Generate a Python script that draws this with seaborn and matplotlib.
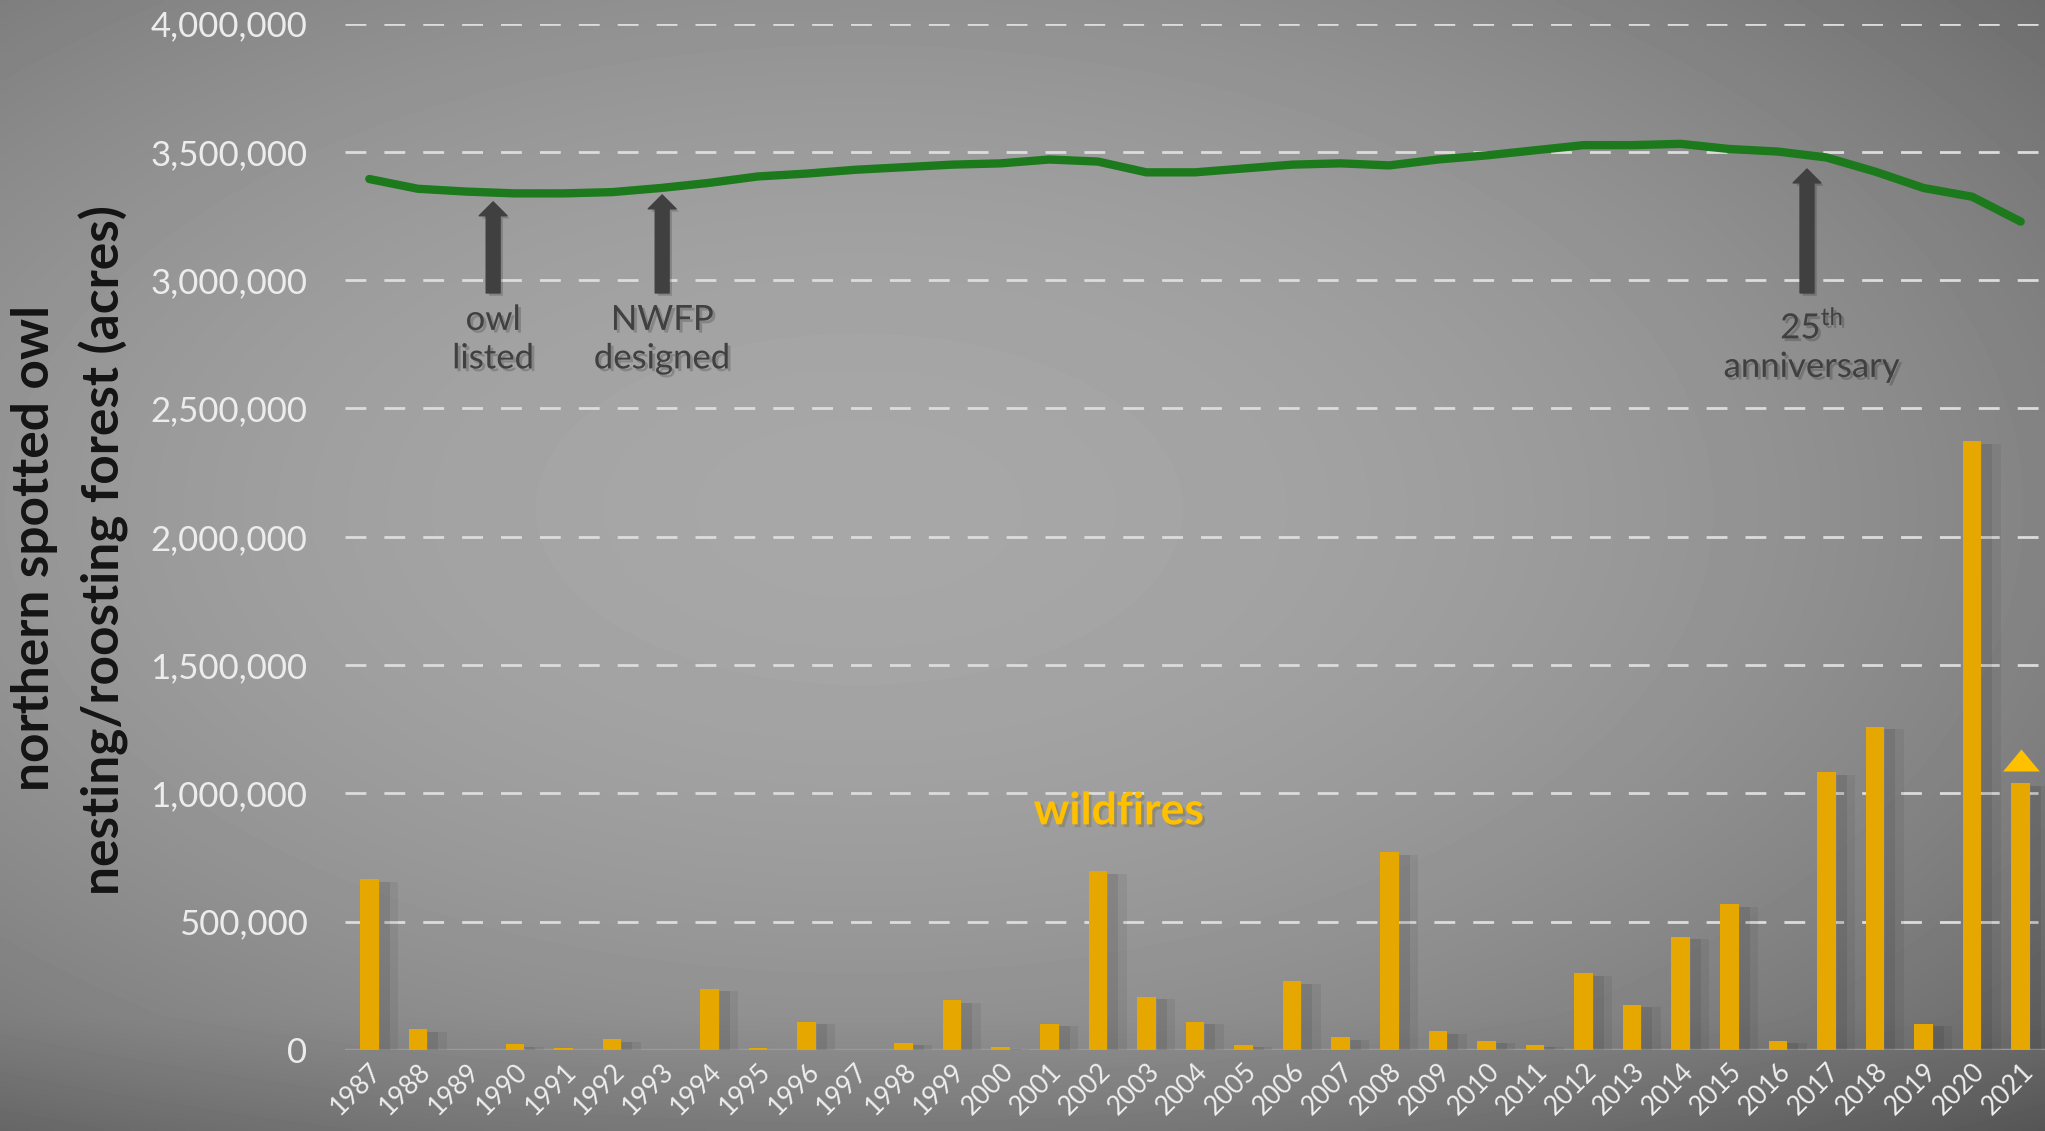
import matplotlib

matplotlib.use("Agg")
import matplotlib.patheffects as pe
import matplotlib.pyplot as plt
import numpy as np
import pandas as pd
import seaborn as sns

YEARS = list(range(1987, 2022))
FOREST_ACRES = [
    3394000, 3356000, 3345000, 3338000, 3338000, 3343000, 3359000, 3379000,
    3404000, 3415000, 3430000, 3440000, 3450000, 3455000, 3470000, 3462000,
    3420000, 3420000, 3435000, 3450000, 3455000, 3447000, 3470000, 3486000,
    3506000, 3526000, 3526000, 3531000, 3511000, 3501000, 3478000, 3423000,
    3359000, 3325000, 3228000,
]
WILDFIRE_ACRES = [
    665000, 81000, 0, 24000, 7000, 43000, 0, 239000,
    8000, 111000, 0, 29000, 193000, 13000, 103000, 696000,
    208000, 111000, 21000, 267000, 51000, 772000, 73000, 37000,
    21000, 299000, 177000, 442000, 569000, 37000, 1082000, 1260000,
    103000, 2373000, 1040000,
]
Y_TICKS = [0, 500000, 1000000, 1500000, 2000000, 2500000, 3000000, 3500000, 4000000]
EVENT_LABELS = ["owl\nlisted", "NWFP\ndesigned", "25$^{\\mathrm{th}}$\nanniversary"]
FIRE_2021_PROJECTED = 1130000

W, H = 2045, 1131
BAR_COLOR = "#E6A800"
LINE_COLOR = "#1C7A1C"
DARK = "#404040"


def background(fig):
    bg = fig.add_axes([0, 0, 1, 1], zorder=-10)
    xx, yy = np.meshgrid(np.linspace(0, 1, 400), np.linspace(0, 1, 220))
    dx = (xx - 0.42) / 0.58
    dy = (yy - 0.45) / 0.55
    v = 0.655 - 0.14 * dx**2 - 0.13 * dy**2
    v -= 0.05 * np.clip((yy - 0.9) / 0.1, 0, 1)
    bg.imshow(v, cmap="gray", vmin=0, vmax=1, aspect="auto",
              extent=[0, 1, 0, 1], origin="upper", interpolation="bilinear")
    bg.set_axis_off()


def main():
    sns.set_style("white")
    plt.rcParams["font.family"] = ["Lato", "DejaVu Sans"]
    plt.rcParams["mathtext.fontset"] = "custom"
    plt.rcParams["mathtext.rm"] = "Lato"

    df = pd.DataFrame({
        "year": [str(y) for y in YEARS],
        "pos": np.arange(len(YEARS)),
        "forest": FOREST_ACRES,
        "fire": WILDFIRE_ACRES,
    })

    fig = plt.figure(figsize=(W / 100, H / 100), dpi=100)
    background(fig)
    ax = fig.add_axes([345 / W, 1 - 1050 / H, 1 - 345 / W, (1050 - 23.5) / H])
    ax.set_facecolor("none")

    sns.barplot(data=df, x="year", y="fire", color=BAR_COLOR, saturation=1,
                width=0.38, linewidth=0, ax=ax, zorder=3)
    for bar in ax.patches:
        bar.set_path_effects([
            pe.SimplePatchShadow(offset=(14, -2), shadow_rgbFace="k", alpha=0.06),
            pe.SimplePatchShadow(offset=(8, -2), shadow_rgbFace="k", alpha=0.08),
            pe.Normal(),
        ])
    sns.lineplot(data=df, x="pos", y="forest", color=LINE_COLOR, linewidth=6,
                 ax=ax, zorder=4, solid_capstyle="round")
    ax.scatter([len(YEARS) - 1], [FIRE_2021_PROJECTED], s=700, color="#FFC000",
               marker=[(-1, -0.6), (1, -0.6), (0, 0.6)], zorder=5, linewidths=0)

    ax.set_xlim(-0.5, len(YEARS) - 0.5)
    ax.set_ylim(0, 4000000)
    ax.set_yticks(Y_TICKS)
    ax.set_yticklabels([f"{v:,}" for v in Y_TICKS], fontsize=25, color="#ececec")
    ax.tick_params(axis="y", length=0, pad=27)
    ax.tick_params(axis="x", length=0, pad=6)
    ax.set_xticks(df["pos"])
    ax.set_xticklabels(df["year"], rotation=45, ha="right", va="top",
                       rotation_mode="anchor", fontsize=19, color="#eeeeee")
    ax.grid(axis="y", color="#dcdcdc", linewidth=2, linestyle=(0, (7.5, 6.5)), zorder=1)
    ax.grid(axis="x", visible=False)
    ax.axhline(0, color="#9a9a9a", linewidth=2.5, zorder=2)
    sns.despine(ax=ax, left=True, bottom=True)
    ax.set_xlabel("")
    ax.set_ylabel("")

    shadow = [pe.withSimplePatchShadow(offset=(2, -2), shadow_rgbFace="k", alpha=0.18)]
    arrow_style = "simple,head_width=2.0,head_length=1.0,tail_width=1.0"
    events = [(2.55, 3305000, 2950000, 2770000),
              (6.03, 3332000, 2950000, 2770000),
              (29.6, 3433000, 2950000, 2745000)]
    for label, (x, head, tail, ty) in zip(EVENT_LABELS, events):
        ax.annotate("", xy=(x, head), xytext=(x, tail),
                    arrowprops=dict(arrowstyle=arrow_style, mutation_scale=10,
                                    color=DARK, shrinkA=0, shrinkB=0,
                                    path_effects=shadow), zorder=6)
        ax.text(x + (0.1 if "25" in label else 0), ty, label, ha="center", va="center",
                fontsize=25, color=DARK, linespacing=1.25, path_effects=shadow, zorder=6)

    ax.text(15.43, 930000, "wildfires", ha="center", va="center", fontsize=32,
            fontweight="bold", color="#FFC000", zorder=6,
            path_effects=[pe.withSimplePatchShadow(offset=(2, -2), alpha=0.2)])

    fig.text(35 / W, 1 - 548 / H, "northern spotted owl", rotation=90, ha="center",
             va="center", fontsize=37, fontweight="bold", color="#141414")
    fig.text(104 / W, 1 - 550 / H, "nesting/roosting forest (acres)", rotation=90,
             ha="center", va="center", fontsize=37, fontweight="bold", color="#141414")

    fig.savefig("out.png", dpi=100)
    plt.close(fig)


if __name__ == "__main__":
    main()
